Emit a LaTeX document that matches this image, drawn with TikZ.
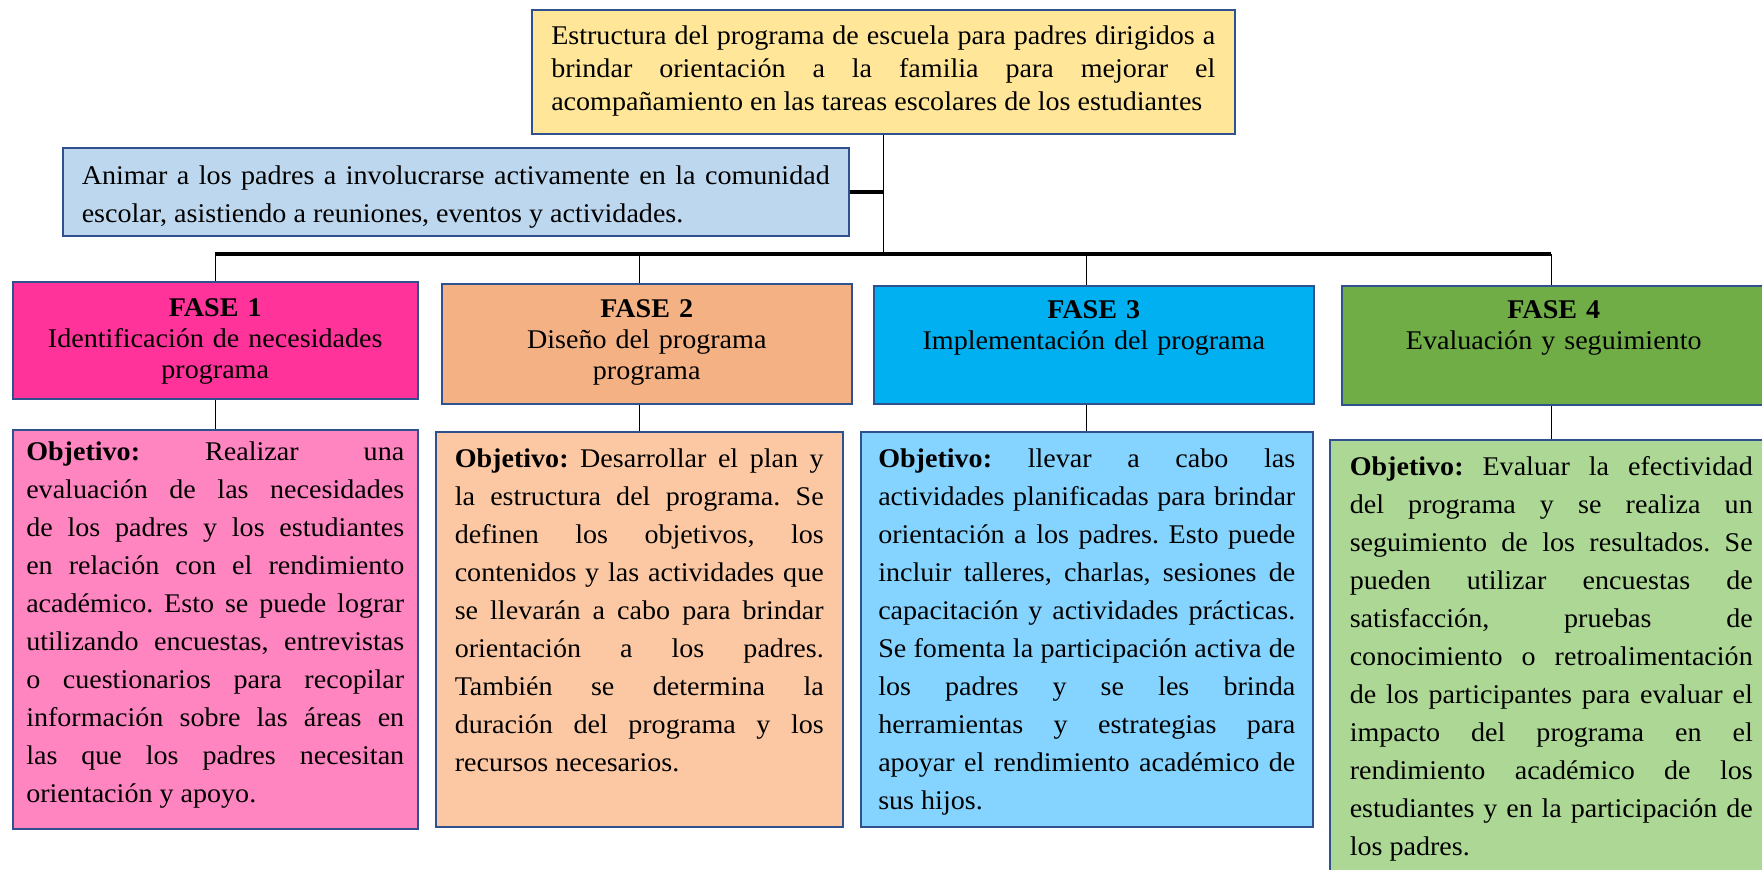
\documentclass[tikz,border=0pt]{standalone}
\usepackage{fontspec}
\setmainfont{Liberation Serif}[FakeStretch=1.04]
\usepackage{xcolor}
\usepackage{tikz}
\usetikzlibrary{positioning}

\definecolor{edgeblue}{HTML}{2F528F}
\definecolor{titlefill}{HTML}{FFE699}
\definecolor{goalfill}{HTML}{BDD7EE}
\definecolor{fase1fill}{HTML}{FF3399}
\definecolor{fase2fill}{HTML}{F4B183}
\definecolor{fase3fill}{HTML}{00B0F0}
\definecolor{fase4fill}{HTML}{70AD47}
\definecolor{obj1fill}{HTML}{FF85C0}
\definecolor{obj2fill}{HTML}{FCC8A3}
\definecolor{obj3fill}{HTML}{85D3FF}
\definecolor{obj4fill}{HTML}{ADD795}

\hyphenpenalty=10000
\exhyphenpenalty=10000
\tolerance=10000
\hbadness=10000
\frenchspacing

\tikzset{
  box/.style={draw=edgeblue, line width=1.5pt, anchor=north west, inner ysep=0pt},
  bodytext/.style={font=\fontsize{27}{38}\selectfont, align=justify},
  fasetext/.style={font=\fontsize{27}{31}\selectfont, align=center},
  conn/.style={line width=1.3pt},
  heavy/.style={line width=3.5pt}
}

\begin{document}
\begin{tikzpicture}[x=1pt,y=-1pt]
  \useasboundingbox (0,0) rectangle (1762,870);
  \clip (0,0) rectangle (1762,870);

  % title and goal
  \node[box, fill=titlefill, bodytext, font=\fontsize{27}{33}\selectfont,
        text width=664pt, inner xsep=19.5pt, text height=35pt, text depth=89pt]
    (title) at (531,9) {Estructura del programa de escuela para padres dirigidos a\linebreak
      brindar orientación a la familia para mejorar el\linebreak
      acompañamiento en las tareas escolares de los estudiantes};
  \node[box, fill=goalfill, bodytext,
        text width=748pt, inner xsep=19pt, text height=37pt, text depth=51pt]
    (goal) at (62,147) {Animar a los padres a involucrarse activamente en la comunidad\linebreak
      escolar, asistiendo a reuniones, eventos y actividades.};

  % phases
  \node[box, fill=fase1fill, fasetext, text width=385pt, inner xsep=10pt,
        text height=35pt, text depth=82pt]
    (f1) at (12,281) {\textbf{FASE 1}\\ Identificación de necesidades\\ programa};
  \node[box, fill=fase2fill, fasetext, text width=390pt, inner xsep=10pt,
        text height=34pt, text depth=86pt]
    (f2) at (441,283) {\textbf{FASE 2}\\ Diseño del programa\\ programa};
  \node[box, fill=fase3fill, fasetext, text width=420pt, inner xsep=10pt,
        text height=33pt, text depth=85pt]
    (f3) at (873,285) {\textbf{FASE 3}\\ Implementación del programa};
  \node[box, fill=fase4fill, fasetext, text width=404pt, inner xsep=10pt,
        text height=33pt, text depth=86pt]
    (f4) at (1341,285) {\textbf{FASE 4}\\ Evaluación y seguimiento};

  % objectives
  \node[box, fill=obj1fill, bodytext, text width=378pt, inner xsep=13.5pt,
        text height=31pt, text depth=368pt]
    (obj1) at (12,429) {\textbf{Objetivo:} Realizar una\linebreak
      evaluación de las necesidades\linebreak
      de los padres y los estudiantes\linebreak
      en relación con el rendimiento\linebreak
      académico. Esto se puede lograr\linebreak
      utilizando encuestas, entrevistas\linebreak
      o cuestionarios para recopilar\linebreak
      información sobre las áreas en\linebreak
      las que los padres necesitan\linebreak
      orientación y apoyo.};
  \node[box, fill=obj2fill, bodytext, text width=369pt, inner xsep=19pt,
        text height=36pt, text depth=359pt]
    (obj2) at (435,431) {\textbf{Objetivo:} Desarrollar el plan y\linebreak
      la estructura del programa. Se\linebreak
      definen los objetivos, los\linebreak
      contenidos y las actividades que\linebreak
      se llevarán a cabo para brindar\linebreak
      orientación a los padres.\linebreak
      También se determina la\linebreak
      duración del programa y los\linebreak
      recursos necesarios.};
  \node[box, fill=obj3fill, bodytext, text width=417pt, inner xsep=17.5pt,
        text height=36pt, text depth=359pt]
    (obj3) at (860,431) {\textbf{Objetivo:} llevar a cabo las\linebreak
      actividades planificadas para brindar\linebreak
      orientación a los padres. Esto puede\linebreak
      incluir talleres, charlas, sesiones de\linebreak
      capacitación y actividades prácticas.\linebreak
      Se fomenta la participación activa de\linebreak
      los padres y se les brinda\linebreak
      herramientas y estrategias para\linebreak
      apoyar el rendimiento académico de\linebreak
      sus hijos.};
  \node[box, fill=obj4fill, bodytext, text width=403pt, inner xsep=20pt,
        text height=36pt, text depth=440pt]
    (obj4) at (1329,439) {\textbf{Objetivo:} Evaluar la efectividad\linebreak
      del programa y se realiza un\linebreak
      seguimiento de los resultados. Se\linebreak
      pueden utilizar encuestas de\linebreak
      satisfacción, pruebas de\linebreak
      conocimiento o retroalimentación\linebreak
      de los participantes para evaluar el\linebreak
      impacto del programa en el\linebreak
      rendimiento académico de los\linebreak
      estudiantes y en la participación de\linebreak
      los padres.};

  % connectors
  \coordinate (bus) at (0,254);
  \draw[conn] (title.south) -- (title.south |- bus);
  \draw[heavy] (goal.east) -- (goal.east -| title.south);
  \draw[heavy] (obj1.north |- bus) -- (obj4.north |- bus);
  \foreach \i in {1,...,4} {
    \draw[conn] (obj\i.north |- bus) -- (obj\i.north |- f\i.north);
    \draw[conn] (obj\i.north |- f\i.south) -- (obj\i.north);
  }
\end{tikzpicture}
\end{document}
